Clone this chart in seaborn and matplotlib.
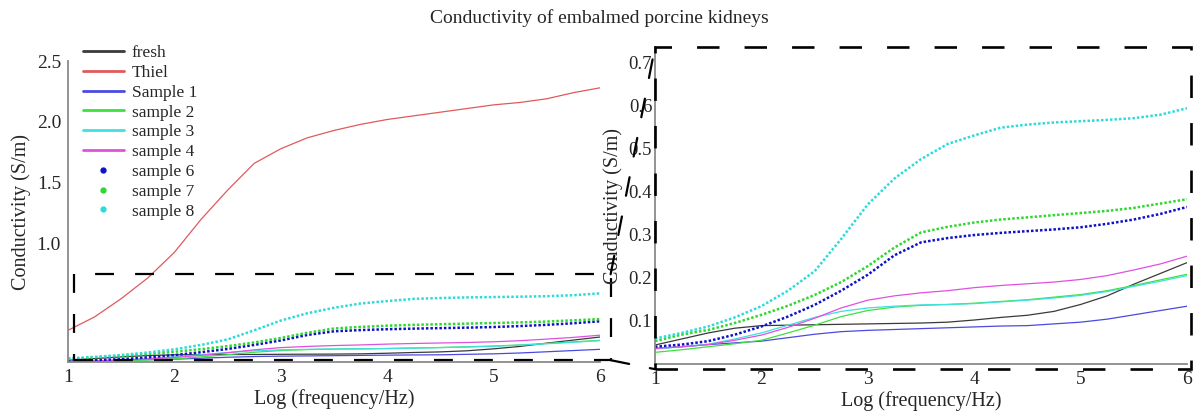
import numpy as np
import pandas as pd
import matplotlib
matplotlib.use("Agg")
import matplotlib.pyplot as plt
import seaborn as sns
from matplotlib.patches import Rectangle, ConnectionPatch
from matplotlib.lines import Line2D
from matplotlib.ticker import MultipleLocator, FixedLocator

# ---------------- data ----------------
log_freq = [1.0, 1.25, 1.5, 1.75, 2.0, 2.25, 2.5, 2.75, 3.0, 3.25, 3.5,
            3.75, 4.0, 4.25, 4.5, 4.75, 5.0, 5.25, 5.5, 5.75, 6.0]

fresh = [0.044, 0.058, 0.072, 0.083, 0.089, 0.090, 0.091, 0.092, 0.093, 0.094, 0.095,
         0.097, 0.102, 0.108, 0.113, 0.122, 0.138, 0.158, 0.185, 0.210, 0.235]
thiel = [0.29, 0.40, 0.55, 0.72, 0.93, 1.20, 1.44, 1.66, 1.78, 1.87, 1.93,
         1.98, 2.02, 2.05, 2.08, 2.11, 2.14, 2.16, 2.19, 2.24, 2.28]
sample1 = [0.036, 0.040, 0.045, 0.049, 0.053, 0.061, 0.069, 0.075, 0.078, 0.080, 0.082,
           0.084, 0.086, 0.088, 0.089, 0.093, 0.097, 0.104, 0.114, 0.124, 0.134]
sample2 = [0.027, 0.033, 0.040, 0.047, 0.055, 0.072, 0.090, 0.110, 0.124, 0.132, 0.136,
           0.138, 0.141, 0.145, 0.149, 0.155, 0.161, 0.170, 0.182, 0.195, 0.208]
sample3 = [0.035, 0.040, 0.046, 0.058, 0.072, 0.090, 0.108, 0.122, 0.130, 0.134, 0.137,
           0.138, 0.140, 0.144, 0.148, 0.153, 0.159, 0.168, 0.180, 0.192, 0.205]
sample4 = [0.036, 0.040, 0.045, 0.055, 0.067, 0.085, 0.106, 0.130, 0.148, 0.158, 0.165,
           0.170, 0.177, 0.182, 0.186, 0.190, 0.196, 0.205, 0.218, 0.232, 0.250]
sample6 = [0.040, 0.045, 0.053, 0.068, 0.087, 0.110, 0.137, 0.170, 0.207, 0.252, 0.282,
           0.292, 0.299, 0.304, 0.308, 0.312, 0.317, 0.325, 0.335, 0.348, 0.364]
sample7 = [0.053, 0.068, 0.079, 0.095, 0.114, 0.135, 0.160, 0.190, 0.227, 0.270, 0.305,
           0.318, 0.328, 0.335, 0.340, 0.345, 0.350, 0.355, 0.362, 0.372, 0.382]
sample8 = [0.059, 0.072, 0.087, 0.108, 0.134, 0.170, 0.215, 0.290, 0.370, 0.430, 0.475,
           0.510, 0.530, 0.548, 0.555, 0.560, 0.563, 0.566, 0.570, 0.578, 0.593]

series_names = ["fresh", "Thiel", "Sample 1", "sample 2", "sample 3", "sample 4",
                "sample 6", "sample 7", "sample 8"]
series_values = [fresh, thiel, sample1, sample2, sample3, sample4, sample6, sample7, sample8]
series_colors = ["#3a3a3a", "#e05a5a", "#4a4ae0", "#3ee03e", "#3ee0e0", "#e050e0",
                 "#1010c8", "#2ed82e", "#30dada"]
dotted = [False, False, False, False, False, False, True, True, True]
in_zoom_panel = [True, False, True, True, True, True, True, True, True]

left_yticks = [0.5, 1.0, 1.5, 2.0, 2.5]
left_yticklabels = ["", "1.0", "1.5", "2.0", "2.5"]
right_yticks = [0.1, 0.2, 0.3, 0.4, 0.5, 0.6, 0.7]
x_ticks = [1, 2, 3, 4, 5, 6]

title = "Conductivity of embalmed porcine kidneys"
xlabel = "Log (frequency/Hz)"
ylabel = "Conductivity (S/m)"

df = pd.DataFrame({
    "x": np.tile(log_freq, len(series_names)),
    "y": np.concatenate(series_values),
    "series": np.repeat(series_names, len(log_freq)),
})

# ---------------- style ----------------
sns.set_style("white")
plt.rcParams["font.family"] = ["Liberation Serif", "DejaVu Serif"]
plt.rcParams["axes.unicode_minus"] = False

W, H = 1197, 416
fig = plt.figure(figsize=(W / 100, H / 100), dpi=100)

def px_axes(x0, x1, ytop, ybot):
    return [x0 / W, (H - ybot) / H, (x1 - x0) / W, (ybot - ytop) / H]

ax1 = fig.add_axes(px_axes(68, 600, 61, 362))
ax2 = fig.add_axes(px_axes(655, 1187, 47, 364))

def draw(ax, zoom=False, lw=0.9):
    for name, col, dot, inz in zip(series_names, series_colors, dotted, in_zoom_panel):
        if zoom and not inz:
            continue
        sub = df[df["series"] == name]
        if dot:
            sns.lineplot(data=sub, x="x", y="y", ax=ax, color=col, lw=1.8,
                         linestyle=(0, (1.0, 0.8)), legend=False)
        else:
            sns.lineplot(data=sub, x="x", y="y", ax=ax, color=col, lw=lw, legend=False)

draw(ax1)
draw(ax2, zoom=True)

spine_col = "#8a8a8a"
for ax in (ax1, ax2):
    for s in ("top", "right"):
        ax.spines[s].set_visible(False)
    for s in ("left", "bottom"):
        ax.spines[s].set_color(spine_col)
        ax.spines[s].set_linewidth(1.3)
    ax.set_xlim(1, 6)
    ax.set_xticks(x_ticks)
    ax.xaxis.set_minor_locator(MultipleLocator(0.5))
    ax.tick_params(which="both", direction="in", length=4, width=1, color=spine_col,
                   labelsize=14, pad=5)
    ax.set_xlabel(xlabel, fontsize=14.5, labelpad=2)
    ax.set_ylabel(ylabel, fontsize=14.5, labelpad=4)

ax1.set_ylim(0.03, 2.5)
ax1.yaxis.set_major_locator(FixedLocator(left_yticks))
ax1.set_yticklabels(left_yticklabels)

ax2.set_ylim(0, 0.735)
ax2.set_yticks(right_yticks)
ax2.set_yticklabels([f"{v:.1f}" for v in right_yticks])
ax2.tick_params(axis="y", labelsize=13.5, pad=2)

# zoom boxes and connectors
dash = (0, (8.5, 9.5))
box1 = Rectangle((1.06, 0.045), 5.04, 0.705, fill=False, ec="black", lw=1.6,
                 linestyle=dash, clip_on=False, zorder=5)
ax1.add_patch(box1)
box2 = Rectangle((1.0, -0.012), 5.04, 0.747, fill=False, ec="black", lw=1.9,
                 linestyle=dash, clip_on=False, zorder=5)
ax2.add_patch(box2)
for (ya, yb) in ((0.75, 0.735), (0.045, -0.012)):
    con = ConnectionPatch(xyA=(6.1, ya), coordsA=ax1.transData,
                          xyB=(1.0, yb), coordsB=ax2.transData,
                          color="black", lw=1.6, linestyle=dash)
    fig.add_artist(con)

# legend
handles = []
for name, col, dot in zip(series_names, series_colors, dotted):
    if dot:
        handles.append(Line2D([], [], color=col, marker="o", markersize=3.5, linestyle="none"))
    else:
        handles.append(Line2D([], [], color=col, lw=2.0))
leg = ax1.legend(handles, series_names, loc="upper left", frameon=False,
                 bbox_to_anchor=(83 / W, (H - 45) / H), bbox_transform=fig.transFigure,
                 fontsize=12.5, handlelength=2.36, handletextpad=0.46, labelspacing=0.21,
                 borderpad=0, borderaxespad=0)

fig.text(0.501, 1 - 18 / H, title, ha="center", va="center", fontsize=14)

fig.savefig("out.png", dpi=100)
